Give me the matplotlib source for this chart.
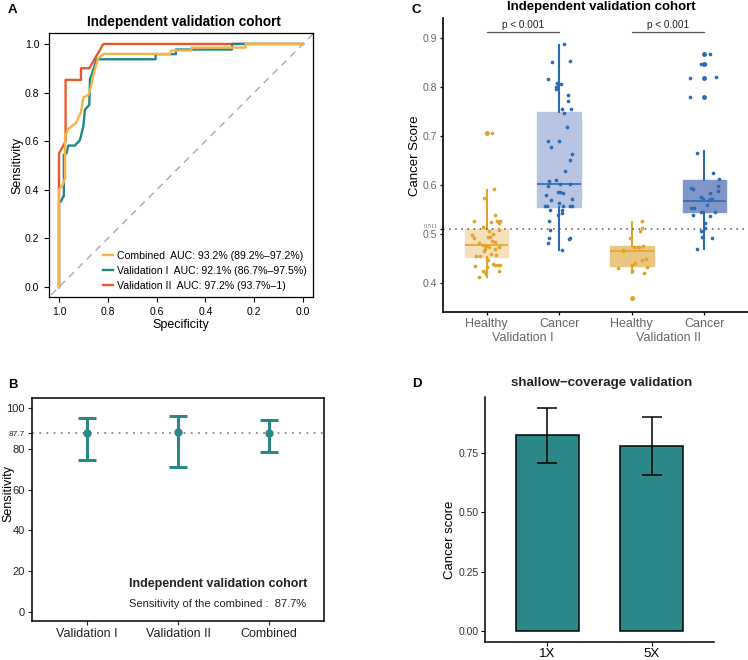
#!/usr/bin/env python
# coding: utf-8

# Four panel validation figure: ROC curves (A), sensitivity with CI (B),
# cancer score boxplots (C) and shallow coverage bars (D)

import numpy as np
import matplotlib
matplotlib.use("Agg")
import matplotlib.pyplot as plt

plt.rcParams['font.family'] = ['Liberation Sans', 'DejaVu Sans']

W, H = 748, 660

# ---------------- data ----------------
# A: ROC curves (specificity, sensitivity)
combined_spec = [1.0, 1.0, 0.985, 0.975, 0.975, 0.962, 0.93, 0.91, 0.9, 0.88, 0.87, 0.86, 0.84, 0.815,
                 0.546, 0.54, 0.457, 0.457, 0.235, 0.235, 0.0]
combined_sens = [0.0, 0.40, 0.42, 0.45, 0.62, 0.65, 0.675, 0.72, 0.78, 0.79, 0.82, 0.87, 0.94, 0.959,
                 0.959, 0.973, 0.973, 0.985, 0.985, 1.0, 1.0]
val1_spec = [1.0, 1.0, 0.992, 0.982, 0.98, 0.98, 0.969, 0.962, 0.935, 0.914, 0.9, 0.894, 0.876, 0.873,
             0.86, 0.846, 0.604, 0.604, 0.521, 0.521, 0.291, 0.291, 0.0]
val1_sens = [0.0, 0.35, 0.352, 0.373, 0.373, 0.544, 0.55, 0.582, 0.582, 0.605, 0.663, 0.729, 0.749, 0.855,
             0.893, 0.937, 0.937, 0.958, 0.958, 0.977, 0.977, 1.0, 1.0]
val2_spec = [1.0, 1.0, 1.0, 0.982, 0.973, 0.973, 0.91, 0.91, 0.876, 0.818, 0.0]
val2_sens = [0.0, 0.40, 0.55, 0.582, 0.60, 0.852, 0.852, 0.90, 0.90, 1.0, 1.0]
roc_labels = ["Combined  AUC: 93.2% (89.2%\u201397.2%)",
              "Validation I  AUC: 92.1% (86.7%\u201397.5%)",
              "Validation II  AUC: 97.2% (93.7%\u20131)"]

# B: sensitivity with 95% CI
cohorts = ["Validation I", "Validation II", "Combined"]
sens_point = [87.7, 88.2, 87.7]
sens_low = [74.5, 71.1, 78.4]
sens_high = [95.1, 96.1, 94.1]
sens_combined = 87.7

# C: cancer scores (value, jitter offset)
healthy1_score = [0.591, 0.573, 0.539, 0.526, 0.525, 0.527, 0.525, 0.527, 0.522, 0.514, 0.506, 0.508,
                  0.499, 0.493, 0.501, 0.495, 0.495, 0.486, 0.484, 0.481, 0.478, 0.476, 0.474, 0.470,
                  0.474, 0.470, 0.465, 0.459, 0.458, 0.455, 0.455, 0.450, 0.448, 0.433, 0.439, 0.437,
                  0.436, 0.436, 0.435, 0.425, 0.422, 0.424, 0.418, 0.412, 0.707, 0.707]
healthy1_jit = [0.10, -0.03, 0.12, -0.175, 0.055, 0.15, 0.175, 0.18, 0.165, -0.055, 0.035, 0.165,
                -0.2, -0.175, 0.09, 0.02, 0.045, 0.075, 0.12, -0.11, -0.045, -0.01, 0.175, -0.02,
                0.035, 0.12, -0.035, 0.055, 0.13, -0.15, -0.09, 0.01, 0.02, 0.0, 0.09, 0.12,
                0.155, 0.185, -0.155, -0.055, -0.02, 0.165, -0.01, -0.11, -0.005, 0.07]
cancer1_score = [0.888, 0.852, 0.854, 0.816, 0.809, 0.807, 0.807, 0.801, 0.797, 0.784, 0.771, 0.755,
                 0.755, 0.748, 0.718, 0.690, 0.690, 0.677, 0.663, 0.651, 0.628, 0.610, 0.608, 0.603,
                 0.602, 0.599, 0.583, 0.585, 0.585, 0.580, 0.569, 0.572, 0.564, 0.558, 0.558, 0.557,
                 0.557, 0.557, 0.549, 0.550, 0.544, 0.539, 0.526, 0.508, 0.493, 0.492, 0.490, 0.482,
                 0.467]
cancer1_jit = [0.06, -0.097, 0.143, -0.16, -0.03, -0.014, 0.023, -0.05, -0.05, 0.115, 0.115, 0.032,
               0.16, 0.07, 0.106, -0.16, -0.005, -0.106, 0.18, 0.152, 0.078, -0.05, -0.134, 0.152,
               0.014, -0.152, 0.05, -0.023, 0.005, -0.18, -0.115, 0.18, -0.005, 0.05, 0.152, 0.17,
               -0.198, -0.17, -0.124, 0.032, 0.041, -0.023, -0.134, -0.124, -0.143, 0.152, 0.134, -0.16,
               0.041]
healthy2_score = [0.526, 0.512, 0.507, 0.491, 0.474, 0.473, 0.474, 0.476, 0.467, 0.465, 0.448, 0.450,
                  0.440, 0.436, 0.431, 0.432, 0.424, 0.420, 0.369, 0.369]
healthy2_jit = [0.143, 0.143, 0.106, -0.023, 0.032, 0.09, 0.095, 0.152, -0.124, -0.115, 0.143, 0.19,
                0.05, 0.005, -0.19, 0.207, 0.0, 0.17, 0.005, 0.02]
cancer2_score = [0.867, 0.867, 0.847, 0.847, 0.818, 0.818, 0.820, 0.780, 0.780, 0.665, 0.625, 0.612,
                 0.598, 0.594, 0.593, 0.588, 0.584, 0.575, 0.572, 0.571, 0.572, 0.570, 0.560, 0.554,
                 0.553, 0.546, 0.546, 0.538, 0.537, 0.523, 0.512, 0.507, 0.495, 0.492, 0.470]
cancer2_jit = [0.0, 0.078, -0.05, 0.005, -0.198, 0.0, 0.161, -0.198, 0.0, -0.097, 0.124, 0.198,
               0.18, -0.19, -0.152, 0.18, 0.078, -0.05, -0.014, 0.106, 0.097, 0.069, 0.041, -0.18,
               -0.143, -0.041, 0.152, -0.16, 0.078, 0.014, 0.005, -0.041, -0.032, 0.106, -0.097]
# box statistics: (q1, median, q3, whisker low, whisker high)
box_stats = [(0.4525, 0.478, 0.511, 0.412, 0.590),
             (0.5557, 0.602, 0.750, 0.467, 0.8865),
             (0.4347, 0.466, 0.4755, 0.420, 0.5245),
             (0.545, 0.568, 0.610, 0.470, 0.6688)]
box_outliers = [[0.707], [], [0.369], [0.867, 0.847, 0.818, 0.780]]
group_labels = ["Healthy", "Cancer", "Healthy", "Cancer"]
cohort_labels = ["Validation I", "Validation II"]
cutoff = 0.511

# D: shallow coverage
coverage = ["1X", "5X"]
score_mean = [0.826, 0.780]
score_low = [0.708, 0.657]
score_high = [0.940, 0.902]

# ---------------- colours ----------------
c_comb = "#f5b348"
c_val1 = "#23878a"
c_val2 = "#e85a2c"
teal = "#2a8889"
orange = "#e0a42a"
blue = "#2a6bb2"
box_fill = ["#f5e0ba", "#b7c4e2", "#ebc680", "#8096c7"]
box_line = [orange, blue, orange, blue]


def px_axes(left, top, right, bottom):
    # convert pixel box to figure fraction
    return [left / W, 1 - bottom / H, (right - left) / W, (bottom - top) / H]


def ftext(x, y, s, **kw):
    # figure text at pixel position
    fig.text(x / W, 1 - y / H, s, **kw)


fig = plt.figure(figsize=(W / 100, H / 100), dpi=100)

# ---------------- panel A ----------------
axA = fig.add_axes(px_axes(49, 33, 313, 297))
axA.axline((1, 0), (0, 1), color="#aaaaaa", lw=1, ls=(0, (5, 4)))
l2, = axA.plot(val2_spec, val2_sens, color=c_val2, lw=1.7)
l1, = axA.plot(val1_spec, val1_sens, color=c_val1, lw=1.7)
l0, = axA.plot(combined_spec, combined_sens, color=c_comb, lw=1.7)
axA.set_xlim(1.041, -0.041)
axA.set_ylim(-0.041, 1.045)
axA.set_xticks([1.0, 0.8, 0.6, 0.4, 0.2, 0.0])
axA.set_yticks([0.0, 0.2, 0.4, 0.6, 0.8, 1.0])
axA.xaxis.set_major_formatter(matplotlib.ticker.FormatStrFormatter('%.1f'))
axA.yaxis.set_major_formatter(matplotlib.ticker.FormatStrFormatter('%.1f'))
axA.tick_params(labelsize=7.5, length=3.5, width=0.8)
for s in axA.spines.values():
    s.set_linewidth(0.9)
axA.set_xlabel("Specificity", fontsize=9, labelpad=2)
ftext(17, 165, "Sensitivity", fontsize=9, rotation=90, ha="center", va="center")
ftext(184, 22, "Independent validation cohort", fontsize=9.8, fontweight="bold", ha="center", va="center")
axA.legend([l0, l1, l2], roc_labels, loc="lower right", frameon=False, fontsize=7.6,
           handlelength=0.9, handletextpad=0.4, labelspacing=0.45, borderaxespad=0.2)

# ---------------- panel B ----------------
axB = fig.add_axes(px_axes(32, 398, 324, 621))
xb = np.arange(1, len(cohorts) + 1)
yerr = [np.array(sens_point) - np.array(sens_low), np.array(sens_high) - np.array(sens_point)]
axB.axhline(sens_combined, color="#888888", lw=1.3, ls=(0, (1, 3)))
axB.errorbar(xb, sens_point, yerr=yerr, fmt="o", color=teal, ms=5, lw=2.2,
             capsize=6.5, capthick=2.2)
axB.set_xlim(0.4, 3.6)
axB.set_ylim(-4.4, 104.9)
axB.set_xticks(xb)
axB.set_xticklabels(cohorts, fontsize=9)
axB.set_yticks([0, 20, 40, 60, 80, sens_combined, 100])
axB.set_yticklabels(["0", "20", "40", "60", "80", "87.7", "100"], fontsize=8)
axB.get_yticklabels()[5].set_fontsize(6)
axB.tick_params(length=3, width=0.8, colors="#222222", pad=2)
for s in axB.spines.values():
    s.set_linewidth(1.1)
ftext(8, 494, "Sensitivity", fontsize=9, rotation=90, ha="center", va="center")
axB.text(1.463, 13.7, "Independent validation cohort", fontsize=9, fontweight="bold", color="#222222",
         va="center")
axB.text(1.463, 3.9, "Sensitivity of the combined :  %.1f%%" % sens_combined, fontsize=8,
         color="#222222", va="center")

# ---------------- panel C ----------------
axC = fig.add_axes(px_axes(443, 18, 748, 312))
stats = []
for i, (q1, med, q3, wlo, whi) in enumerate(box_stats):
    stats.append(dict(med=med, q1=q1, q3=q3, whislo=wlo, whishi=whi, fliers=box_outliers[i]))
bp = axC.bxp(stats, positions=[1, 2, 3, 4], widths=0.6, patch_artist=True, showcaps=False,
             flierprops=dict(marker="o", markersize=3.5, markeredgewidth=0))
for i in range(4):
    bp["boxes"][i].set_facecolor(box_fill[i])
    bp["boxes"][i].set_edgecolor(box_fill[i])
    bp["medians"][i].set_color(box_line[i])
    bp["medians"][i].set_linewidth(1.2)
    bp["fliers"][i].set_markerfacecolor(box_line[i])
    for w in bp["whiskers"][2 * i:2 * i + 2]:
        w.set_color(box_line[i])
        w.set_linewidth(1.5)
groups = [(healthy1_score, healthy1_jit, orange), (cancer1_score, cancer1_jit, blue),
          (healthy2_score, healthy2_jit, orange), (cancer2_score, cancer2_jit, blue)]
for i, (sc, jit, col) in enumerate(groups):
    axC.scatter(np.array(jit) + i + 1, sc, s=7, color=col, linewidths=0, zorder=3)
axC.axhline(cutoff, color="#555555", lw=1.1, ls=(0, (1, 3)))
# significance brackets
for x1, x2 in [(1, 2), (3, 4)]:
    axC.plot([x1, x2], [0.912, 0.912], color="#555555", lw=0.9)
    axC.text((x1 + x2) / 2, 0.917, "p < 0.001", ha="center", va="bottom", fontsize=7.2, color="#222222")
axC.set_xlim(0.4, 4.6)
axC.set_ylim(0.341, 0.941)
axC.set_xticks([1, 2, 3, 4])
axC.set_xticklabels(group_labels, fontsize=9, color="#666666")
axC.set_yticks([0.4, 0.5, cutoff, 0.6, 0.7, 0.8, 0.9])
axC.set_yticklabels(["0.4", "0.5", "0.511", "0.6", "0.7", "0.8", "0.9"], fontsize=7.5, color="#666666")
lab = axC.get_yticklabels()[2]
lab.set_fontsize(4.5)
lab.set_family("Liberation Serif")
lab.set_verticalalignment("bottom")
axC.tick_params(length=2.5, width=0.9, pad=1.5)
axC.spines["top"].set_visible(False)
axC.spines["right"].set_visible(False)
axC.spines["left"].set_linewidth(1.2)
axC.spines["bottom"].set_linewidth(1.2)
ftext(415, 156, "Cancer Score", fontsize=9.5, rotation=90, ha="center", va="center")
ftext(601, 7, "Independent validation cohort", fontsize=9.5, fontweight="bold", ha="center", va="center")
ftext(523, 338, cohort_labels[0], fontsize=9, color="#666666", ha="center", va="center")
ftext(668, 338, cohort_labels[1], fontsize=9, color="#666666", ha="center", va="center")

# ---------------- panel D ----------------
axD = fig.add_axes(px_axes(485, 397, 714, 642))
xd = np.arange(1, len(coverage) + 1)
derr = [np.array(score_mean) - np.array(score_low), np.array(score_high) - np.array(score_mean)]
axD.bar(xd, score_mean, width=0.6, color=teal, edgecolor="black", linewidth=1.1)
axD.errorbar(xd, score_mean, yerr=derr, fmt="none", ecolor="black", elinewidth=1.1,
             capsize=7.5, capthick=1.1)
axD.set_xlim(0.4, 2.6)
axD.set_ylim(-0.046, 0.986)
axD.set_xticks(xd)
axD.set_xticklabels(coverage, fontsize=9.5)
axD.set_yticks([0.0, 0.25, 0.5, 0.75])
axD.set_yticklabels(["0.00", "0.25", "0.50", "0.75"], fontsize=7.5, color="#333333")
axD.tick_params(length=3, width=0.8, pad=1.5)
axD.spines["top"].set_visible(False)
axD.spines["right"].set_visible(False)
axD.spines["left"].set_linewidth(1.1)
axD.spines["bottom"].set_linewidth(1.1)
ftext(450, 540, "Cancer score", fontsize=9.5, rotation=90, ha="center", va="center")
ftext(602, 383, "shallow\u2212coverage validation", fontsize=9.6, fontweight="bold", ha="center",
      va="center", color="#222222")

# panel letters
ftext(8, 10, "A", fontsize=9.5, fontweight="bold", va="center")
ftext(8, 385, "B", fontsize=9.5, fontweight="bold", va="center")
ftext(412, 10, "C", fontsize=9.5, fontweight="bold", va="center")
ftext(412, 384, "D", fontsize=9.5, fontweight="bold", va="center")

fig.savefig("out.png", dpi=100)
